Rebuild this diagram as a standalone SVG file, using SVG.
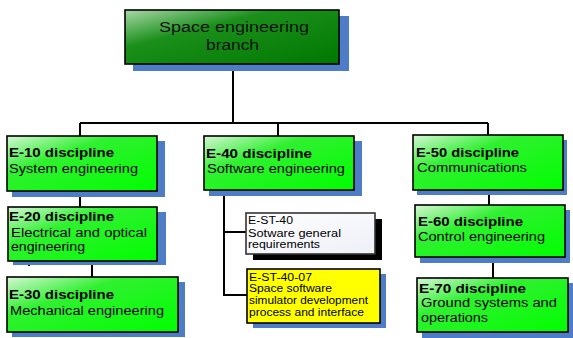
<svg xmlns="http://www.w3.org/2000/svg" width="573" height="338" viewBox="0 0 573 338">
<defs>
<linearGradient id="gDark" x1="0" y1="0" x2="1" y2="1">
<stop offset="0" stop-color="#a8d8a8"/>
<stop offset="0.35" stop-color="#1a8f1a"/>
<stop offset="1" stop-color="#007800"/>
</linearGradient>
<linearGradient id="gBright" x1="0" y1="0" x2="1" y2="1">
<stop offset="0" stop-color="#d8f6d8"/>
<stop offset="0.35" stop-color="#30f030"/>
<stop offset="1" stop-color="#00ff00"/>
</linearGradient>
<linearGradient id="gWhite" x1="0" y1="0" x2="1" y2="1">
<stop offset="0" stop-color="#ffffff"/>
<stop offset="1" stop-color="#eef0f8"/>
</linearGradient>
<style>
.sh{fill:#4f7cc6}
.shk{fill:#000}
.box{stroke:#000;stroke-width:1.6}
.dark{fill:url(#gDark)}
.bright{fill:url(#gBright)}
.white{fill:url(#gWhite);stroke:#333}
.yellow{fill:#ffff00}
.con{stroke:#000;stroke-width:2;fill:none}
text{font-family:"Liberation Sans",Arial,sans-serif;fill:#000}
.b{font-weight:bold;font-size:12px}
.r{font-size:12px}
.s{font-size:10px}
.t{font-size:14px;fill:#111}
</style>
</defs>
<g id="connectors">
<path class="con" d="M233 64V123M80 123H488M80 123V136M278 123V136M488 123V135"/>
<path class="con" d="M80 191V207M27 191V196M92 261V277M29 261V266"/>
<path class="con" d="M224 190V295H247M224 232H246"/>
<path class="con" d="M489 190V205M434 190V195M493 257V278M436 257V263M439 332V338"/>
</g>
<g id="n-top">
<rect class="sh" x="133" y="16" width="216" height="55"/>
<rect class="box dark" x="125" y="10" width="214" height="54"/>
<text class="t" x="159" y="32" textLength="150" lengthAdjust="spacingAndGlyphs">Space engineering</text>
<text class="t" x="206" y="50" textLength="53" lengthAdjust="spacingAndGlyphs">branch</text>
</g>
<g id="n-e10">
<rect class="sh" x="12" y="141" width="153" height="56"/>
<rect class="box bright" x="7" y="136" width="150" height="55"/>
<text class="b" x="9" y="157" textLength="105" lengthAdjust="spacingAndGlyphs">E-10 discipline</text>
<text class="r" x="9" y="173" textLength="129" lengthAdjust="spacingAndGlyphs">System engineering</text>
</g>
<g id="n-e20">
<rect class="sh" x="13" y="212" width="153" height="53"/>
<rect class="box bright" x="8" y="207" width="149" height="54"/>
<text class="b" x="9" y="221" textLength="105" lengthAdjust="spacingAndGlyphs">E-20 discipline</text>
<text class="r" x="11" y="237" textLength="136" lengthAdjust="spacingAndGlyphs">Electrical and optical</text>
<text class="r" x="11" y="251" textLength="74" lengthAdjust="spacingAndGlyphs">engineering</text>
</g>
<g id="n-e30">
<rect class="sh" x="12" y="282" width="173" height="55"/>
<rect class="box bright" x="7" y="277" width="171" height="55"/>
<text class="b" x="9" y="299" textLength="105" lengthAdjust="spacingAndGlyphs">E-30 discipline</text>
<text class="r" x="10" y="315" textLength="154" lengthAdjust="spacingAndGlyphs">Mechanical engineering</text>
</g>
<g id="n-e40">
<rect class="sh" x="209" y="141" width="153" height="55"/>
<rect class="box bright" x="204" y="136" width="150" height="54"/>
<text class="b" x="206" y="158" textLength="106" lengthAdjust="spacingAndGlyphs">E-40 discipline</text>
<text class="r" x="207" y="173" textLength="138" lengthAdjust="spacingAndGlyphs">Software engineering</text>
</g>
<g id="n-est40">
<rect class="shk" x="253" y="219" width="129" height="41"/>
<rect class="box white" x="246" y="213" width="129" height="41"/>
<text class="s" x="248" y="224" textLength="45" lengthAdjust="spacingAndGlyphs">E-ST-40</text>
<text class="s" x="248" y="237" textLength="93" lengthAdjust="spacingAndGlyphs">Sotware general</text>
<text class="s" x="248" y="248" textLength="72" lengthAdjust="spacingAndGlyphs">requirements</text>
</g>
<g id="n-est4007">
<rect class="sh" x="253" y="274" width="133" height="54"/>
<rect class="box yellow" x="247" y="269" width="133" height="54"/>
<text class="s" x="249" y="281" textLength="63" lengthAdjust="spacingAndGlyphs">E-ST-40-07</text>
<text class="s" x="249" y="292" textLength="83" lengthAdjust="spacingAndGlyphs">Space software</text>
<text class="s" x="249" y="304" textLength="119" lengthAdjust="spacingAndGlyphs">simulator development</text>
<text class="s" x="249" y="316" textLength="115" lengthAdjust="spacingAndGlyphs">process and interface</text>
</g>
<g id="n-e50">
<rect class="sh" x="417" y="140" width="150" height="55"/>
<rect class="box bright" x="413" y="135" width="150" height="55"/>
<text class="b" x="416" y="157" textLength="103" lengthAdjust="spacingAndGlyphs">E-50 discipline</text>
<text class="r" x="417" y="172" textLength="110" lengthAdjust="spacingAndGlyphs">Communications</text>
</g>
<g id="n-e60">
<rect class="sh" x="420" y="210" width="150" height="53"/>
<rect class="box bright" x="415" y="205" width="150" height="52"/>
<text class="b" x="418" y="226" textLength="105" lengthAdjust="spacingAndGlyphs">E-60 discipline</text>
<text class="r" x="418" y="241" textLength="127" lengthAdjust="spacingAndGlyphs">Control engineering</text>
</g>
<g id="n-e70">
<rect class="sh" x="422" y="283" width="160" height="60"/>
<rect class="box bright" x="417" y="278" width="151" height="54"/>
<text class="b" x="419" y="293" textLength="107" lengthAdjust="spacingAndGlyphs">E-70 discipline</text>
<text class="r" x="421" y="307" textLength="136" lengthAdjust="spacingAndGlyphs">Ground systems and</text>
<text class="r" x="421" y="322" textLength="67" lengthAdjust="spacingAndGlyphs">operations</text>
</g>
</svg>
